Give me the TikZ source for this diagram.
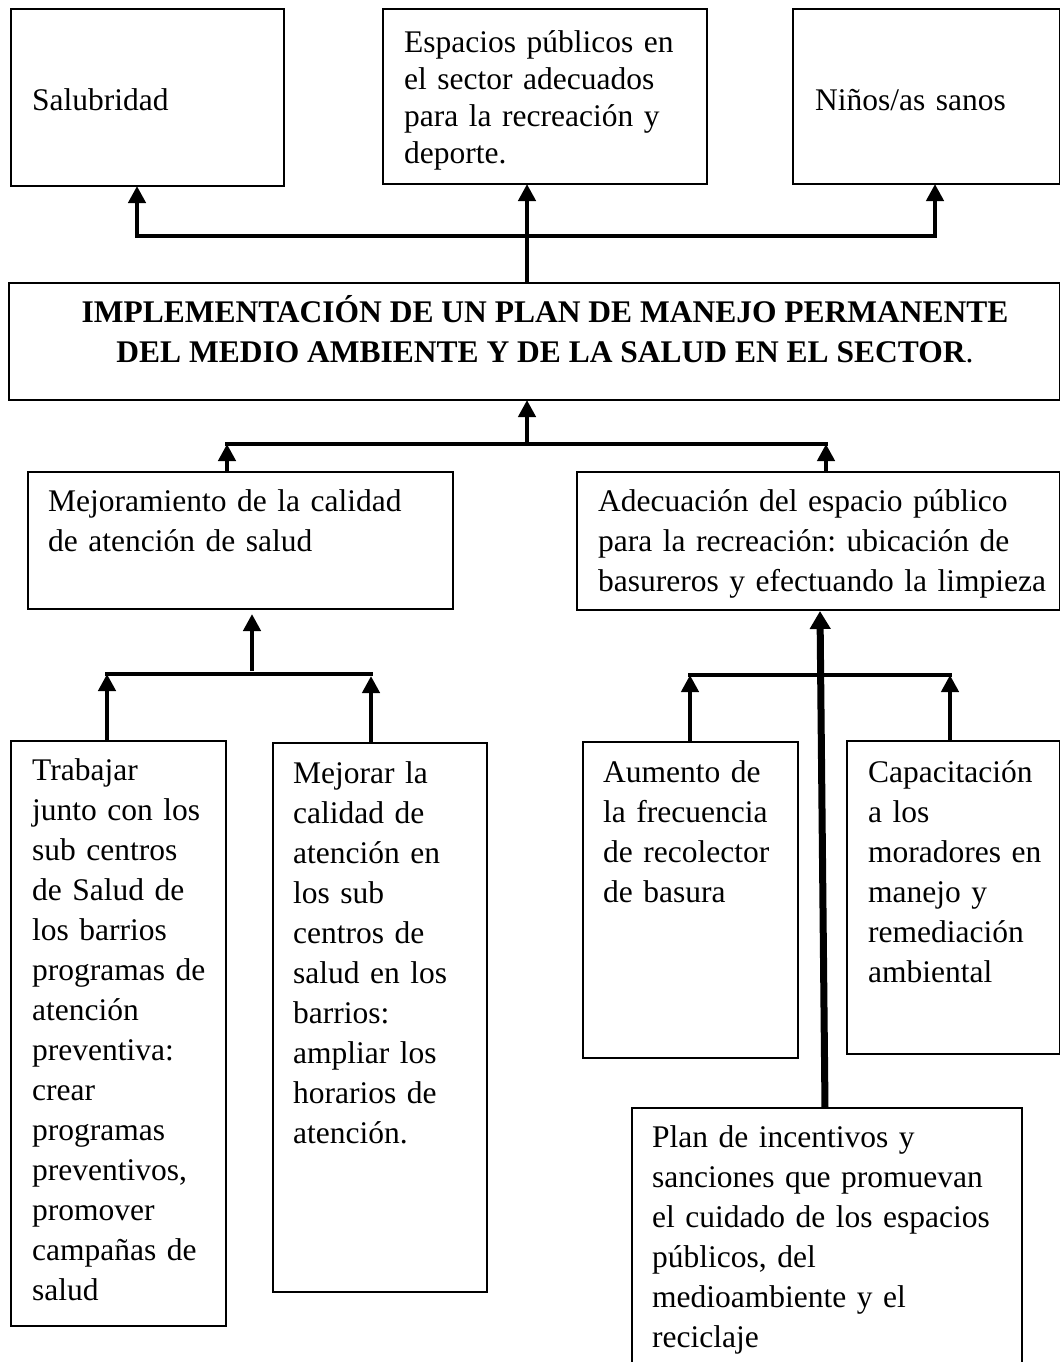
\documentclass[tikz,border=0pt]{standalone}
\usepackage{fontspec}
\setmainfont{Liberation Serif}
\usetikzlibrary{arrows.meta,calc}
\newcommand{\fsA}{\fontsize{31.5}{40}\selectfont\frenchspacing}
\newcommand{\fsB}{\fontsize{31.5}{37}\selectfont\frenchspacing}
\begin{document}
\begin{tikzpicture}[x=1pt,y=-1pt,
  box/.style={draw, line width=1.4pt, anchor=north west, inner sep=0pt, outer sep=0pt},
  txt/.style={inner sep=0pt, anchor=north west, text width=#1, align=left, font=\fsA},
  txtB/.style={inner sep=0pt, anchor=north west, text width=#1, align=left, font=\fsB},
  conn/.style={line width=4.5pt, line cap=rect},
  arr/.style={line width=4.5pt, -{Triangle[width=17pt,length=17pt]}},
  bigarr/.style={line width=7pt, -{Triangle[width=20pt,length=18pt]}}
]
\useasboundingbox (0,0) rectangle (1061,1362);

% boxes
\node[box, minimum width=273pt, minimum height=177pt] (sal) at (11,9) {};
\node[box, minimum width=324pt, minimum height=175pt] (esp) at (383,9) {};
\node[box, minimum width=266.5pt, minimum height=175pt] (nin) at (793,9) {};
\node[box, minimum width=1050.5pt, minimum height=117pt] (main) at (9,283) {};
\node[box, minimum width=425pt, minimum height=137pt] (mej) at (28,472) {};
\node[box, minimum width=482.5pt, minimum height=138pt] (ade) at (577,472) {};
\node[box, minimum width=215pt, minimum height=585pt] (tra) at (11,741) {};
\node[box, minimum width=214pt, minimum height=549pt] (mjr) at (273,743) {};
\node[box, minimum width=215pt, minimum height=316pt] (aum) at (583,742) {};
\node[box, minimum width=212.5pt, minimum height=313pt] (cap) at (847,741) {};
\node[box, minimum width=390pt, minimum height=290pt] (plan) at (632,1108) {};

% texts
\node[txt=250pt] (tsal) at ($(sal.north west)+(21,73)$) {\strut Salubridad};
\node[txtB=300pt] (tesp) at ($(esp.north west)+(21,17)$) {\strut Espacios públicos en\\el sector adecuados\\para la recreación y\\deporte.};
\node[txt=250pt] (tnin) at ($(nin.north west)+(22,73)$) {\strut Niños/as sanos};
\node[inner sep=0pt, anchor=north, align=center, font=\fsA] (tmain) at (545,294)
  {\strut\bfseries IMPLEMENTACIÓN DE UN PLAN DE MANEJO PERMANENTE\\\bfseries DEL MEDIO AMBIENTE Y DE LA SALUD EN EL SECTOR\mdseries.};
\node[txt=420pt] (tmej) at ($(mej.north west)+(20,11)$) {\strut Mejoramiento de la calidad\\de atención de salud};
\node[txt=470pt] (tade) at ($(ade.north west)+(21,11)$) {\strut Adecuación del espacio público\\para la recreación: ubicación de\\basureros y efectuando la limpieza};
\node[txt=200pt] (ttra) at ($(tra.north west)+(21,11)$) {\strut Trabajar\\junto con los\\sub centros\\de Salud de\\los barrios\\programas de\\atención\\preventiva:\\crear\\programas\\preventivos,\\promover\\campañas de\\salud};
\node[txt=200pt] (tmjr) at ($(mjr.north west)+(20,12)$) {\strut Mejorar la\\calidad de\\atención en\\los sub\\centros de\\salud en los\\barrios:\\ampliar los\\horarios de\\atención.};
\node[txt=200pt] (taum) at ($(aum.north west)+(20,12)$) {\strut Aumento de\\la frecuencia\\de recolector\\de basura};
\node[txt=200pt] (tcap) at ($(cap.north west)+(21,13)$) {\strut Capacitación\\a los\\moradores en\\manejo y\\remediación\\ambiental};
\node[txt=370pt] (tplan) at ($(plan.north west)+(20,11)$) {\strut Plan de incentivos y\\sanciones que promuevan\\el cuidado de los espacios\\públicos, del\\medioambiente y el\\reciclaje};

% top connectors
\coordinate (jtl) at (137,236);
\coordinate (jtr) at (935,236);
\coordinate (jt) at (527,236);
\draw[conn] (jtl) -- (jtr);
\draw[arr] (jtl) -- (jtl |- sal.south);
\draw[arr] (jtr) -- (jtr |- nin.south);
\draw[arr] (jt |- main.north) -- (jt |- esp.south);

% middle connectors
\coordinate (jml) at (227,444);
\coordinate (jmr) at (826,444);
\coordinate (jm) at (527,444);
\draw[conn] (jml) -- (jmr);
\draw[arr] (jm) -- (jm |- main.south);
\draw[arr] (jml |- mej.north) -- (jml);
\draw[arr] (jmr |- ade.north) -- (jmr);

% left lower connectors
\coordinate (jll) at (107,674);
\coordinate (jlr) at (371,674);
\coordinate (jl) at (252,671);
\draw[conn] (jll) -- (jlr);
\draw[arr] (jl) -- ($(jl |- mej.south)+(0,5)$);
\draw[arr] (jll |- tra.north) -- (jll);
\draw[arr] (jlr |- mjr.north) -- ($(jlr)+(0,2)$);

% right lower connectors
\coordinate (jrl) at (690,675);
\coordinate (jrr) at (950,675);
\draw[conn] (jrl) -- (jrr);
\draw[arr] (jrl |- aum.north) -- (jrl);
\draw[arr] (jrr |- cap.north) -- (jrr);
\draw[bigarr] ($(plan.north west)+(193,0)$) -- ($(ade.south west)+(243,1)$);
\end{tikzpicture}
\end{document}
